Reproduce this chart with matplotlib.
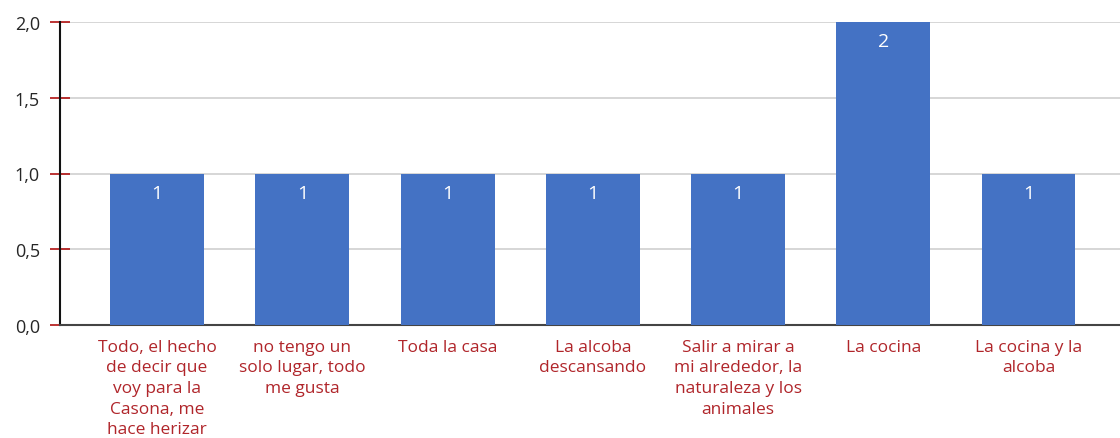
import matplotlib
matplotlib.use("Agg")
import matplotlib.pyplot as plt
from matplotlib.ticker import FuncFormatter

categories = [
    "Todo, el hecho\nde decir que\nvoy para la\nCasona, me\nhace herizar",
    "no tengo un\nsolo lugar, todo\nme gusta",
    "Toda la casa",
    "La alcoba\ndescansando",
    "Salir a mirar a\nmi alrededor, la\nnaturaleza y los\nanimales",
    "La cocina",
    "La cocina y la\nalcoba",
]
values = [1, 1, 1, 1, 1, 2, 1]
y_ticks = [0.0, 0.5, 1.0, 1.5, 2.0]

plt.rcParams['font.family'] = ['Open Sans', 'DejaVu Sans']

fig = plt.figure(figsize=(11.2, 4.39), dpi=100)
ax = fig.add_axes([60 / 1120, 1 - 326 / 439, 1 - 60 / 1120, (326 - 23) / 439])

x = list(range(len(values)))
bars = ax.bar(x, values, width=0.647, color='#4472C4', zorder=3)

for xi, v in zip(x, values):
    ax.annotate(f"{v}", (xi, v), xytext=(0, -14), textcoords='offset points',
                ha='center', va='center', color='white', fontsize=14,
                fontweight='medium', zorder=4)

ax.set_xlim(-0.668, 6.63)
ax.set_ylim(0, 2.0)
ax.set_yticks(y_ticks)
ax.yaxis.set_major_formatter(FuncFormatter(lambda v, p: f"{v:.1f}".replace('.', ',')))
ax.tick_params(axis='y', direction='inout', length=15, width=1.2, color='#B01010',
               labelsize=13, labelcolor='#262626', pad=7)
ax.grid(axis='y', color='#d0d0d0', linewidth=1.2, zorder=0)

ax.set_xticks(x)
ax.set_xticklabels(categories, color='#B0252A', fontsize=12.5, linespacing=1.38)
ax.tick_params(axis='x', length=0, pad=10)

for s in ['top', 'right']:
    ax.spines[s].set_visible(False)
ax.spines['left'].set_color('#111111')
ax.spines['left'].set_linewidth(1.5)
ax.spines['bottom'].set_color('#444444')
ax.spines['bottom'].set_linewidth(1.5)

fig.savefig("out.png", dpi=100, facecolor='white')
